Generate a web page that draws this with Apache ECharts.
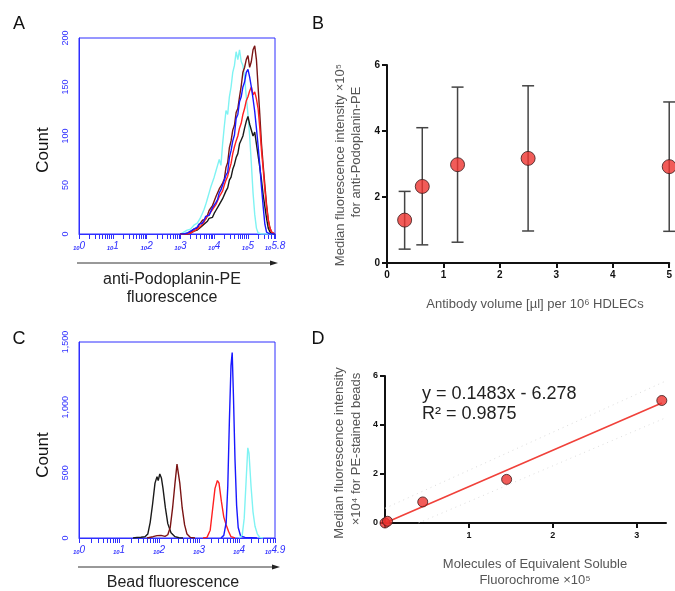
<!DOCTYPE html>
<html>
<head>
<meta charset="utf-8">
<script src="https://cdn.jsdelivr.net/npm/echarts@6/dist/echarts.min.js"></script>
<style>
  html, body { margin: 0; padding: 0; background: #fff; }
  #chart { width: 675px; height: 591px; }
</style>
</head>
<body>
<div id="chart"></div>
<script>
// ---- panel A: anti-Podoplanin-PE histograms (x = log10 fluorescence) ----
var xA = [3.00, 3.05, 3.10, 3.15, 3.20, 3.25, 3.30, 3.35, 3.40, 3.45,
          3.50, 3.55, 3.60, 3.65, 3.70, 3.75, 3.80, 3.85, 3.90, 3.95,
          4.00, 4.05, 4.10, 4.15, 4.20, 4.25, 4.30, 4.35, 4.40, 4.45,
          4.50, 4.55, 4.60, 4.65, 4.70, 4.75, 4.80, 4.85, 4.90, 4.95,
          5.00, 5.05, 5.10, 5.15, 5.20, 5.25, 5.30, 5.35, 5.40, 5.45,
          5.50, 5.55, 5.60, 5.65, 5.70, 5.75, 5.80];
var cyanA = [0, 1, 2, 2, 4, 3, 5, 7, 9, 8,
             11, 14, 17, 21, 25, 30, 36, 42, 48, 46,
             58, 64, 70, 76, 70, 92, 110, 126, 122, 140,
             150, 165, 172, 186, 178, 188, 176, 172, 160, 140,
             122, 100, 72, 42, 20, 6, 1, 0, 0, 0,
             0, 0, 0, 0, 0, 0, 0];
var blackA = [0, 0, 0, 0, 0, 0, 1, 2, 3, 2,
              4, 6, 7, 9, 10, 12, 13, 16, 18, 17,
              21, 24, 26, 30, 31, 36, 38, 44, 47, 55,
              58, 66, 71, 78, 82, 92, 96, 100, 108, 115,
              120, 112, 112, 100, 104, 92, 80, 68, 55, 40,
              28, 16, 6, 2, 0, 0, 0];
var maroonA = [0, 0, 0, 0, 0, 1, 2, 4, 5, 4,
               6, 9, 11, 14, 16, 15, 19, 24, 25, 29,
               31, 38, 40, 46, 49, 52, 56, 68, 73, 88,
               95, 106, 111, 124, 128, 140, 151, 165, 170, 178,
               182, 170, 176, 188, 192, 178, 150, 122, 92, 70,
               50, 30, 15, 6, 2, 0, 0];
var redA = [0, 0, 0, 0, 0, 0, 1, 2, 3, 4,
            5, 7, 8, 10, 12, 16, 18, 20, 22, 25,
            27, 30, 32, 38, 41, 44, 50, 55, 59, 66,
            72, 82, 89, 95, 100, 108, 113, 122, 128, 136,
            140, 146, 150, 142, 145, 138, 128, 108, 85, 66,
            45, 28, 14, 6, 2, 0, 0];
var blueA = [0, 0, 0, 1, 1, 2, 3, 4, 5, 6,
             7, 10, 12, 11, 14, 18, 20, 19, 23, 27,
             28, 32, 35, 42, 45, 50, 52, 60, 63, 78,
             85, 95, 101, 118, 122, 135, 140, 150, 155, 165,
             168, 160, 150, 138, 125, 108, 90, 70, 48, 28,
             10, 2, 0, 0, 0, 0, 0];

// ---- panel B: median intensity vs antibody volume ----
var volB  = [0.3125, 0.625, 1.25, 2.5, 5];
var medB  = [1.30, 2.32, 2.98, 3.17, 2.92];
var lowB  = [0.42, 0.55, 0.63, 0.97, 0.96];
var highB = [2.17, 4.10, 5.33, 5.37, 4.88];

// ---- panel C: bead histograms [log10 x, count] ----
var blackC  = [[1.35, 0], [1.45, 4], [1.55, 6], [1.65, 10], [1.72, 30], [1.78, 120], [1.84, 260], [1.9, 420], [1.95, 470],
               [1.98, 440], [2.02, 490], [2.06, 460], [2.1, 380], [2.16, 230], [2.22, 110], [2.3, 40], [2.4, 10], [2.5, 2], [2.6, 0]];
var maroonC = [[1.7, 0], [1.85, 10], [1.95, 18], [2.05, 20], [2.15, 12], [2.22, 25], [2.28, 80], [2.34, 230], [2.4, 420],
               [2.45, 565], [2.48, 550], [2.52, 420], [2.58, 230], [2.64, 100], [2.7, 30], [2.78, 5], [2.9, 0]];
var redC    = [[3.1, 0], [3.2, 5], [3.28, 60], [3.34, 220], [3.4, 380], [3.46, 440], [3.5, 420], [3.56, 280],
               [3.62, 160], [3.68, 100], [3.74, 50], [3.8, 10], [3.9, 0]];
var blueC   = [[3.55, 0], [3.62, 20], [3.68, 120], [3.72, 400], [3.76, 900], [3.8, 1320], [3.83, 1420], [3.86, 1100],
               [3.9, 600], [3.94, 250], [3.98, 80], [4.04, 15], [4.15, 5], [4.3, 3], [4.45, 0]];
var cyanC   = [[4.0, 0], [4.08, 20], [4.13, 150], [4.18, 450], [4.22, 690], [4.25, 650], [4.3, 400], [4.35, 200],
               [4.4, 90], [4.46, 30], [4.52, 5], [4.6, 0]];

// ---- panel D: bead calibration ----
var mesfD = [0.0, 0.03, 0.45, 1.45, 3.3];
var mfiD  = [0.0, 0.07, 0.86, 1.78, 5.0];
var fitD   = [[0.02, 0.03], [3.3, 4.9]];
var upperD = [[0, 0.6], [3.35, 5.8]];
var lowerD = [[0.4, 0], [3.35, 4.3]];

var histBlue = '#2f2fff';
var font = 'Liberation Sans, Arial, Helvetica, sans-serif';

function logTicks(max) {
    var t = [];
    for (var d = 0; d <= Math.floor(max); d++) {
        for (var k = 1; k <= 9; k++) {
            var v = d + Math.log10(k);
            if (v <= max + 1e-9) t.push(v);
        }
    }
    t.push(max);
    return t;
}

function pairs(xs, ys) {
    return xs.map(function (x, i) { return [x, ys[i]]; });
}

function histX(gridIndex, max, labels) {
    return {
        gridIndex: gridIndex, type: 'value', min: 0, max: max,
        axisLine: { show: true, lineStyle: { color: histBlue, width: 1 } },
        axisTick: { show: true, customValues: logTicks(max), length: 5, lineStyle: { color: histBlue, width: 1 } },
        axisLabel: {
            customValues: labels, margin: 7, color: histBlue,
            formatter: function (v) {
                return '{s|10}{e|' + (Math.round(v * 10) / 10) + '}';
            },
            rich: {
                s: { fontSize: 6, color: histBlue, fontFamily: font, fontStyle: 'italic', fontWeight: 'bold', padding: [4, 0, 0, 0] },
                e: { fontSize: 10, color: histBlue, fontFamily: font, fontStyle: 'italic' }
            }
        },
        splitLine: { show: false }
    };
}

function histY(gridIndex, max, interval) {
    return {
        gridIndex: gridIndex, type: 'value', min: 0, max: max, interval: interval,
        axisLine: { show: true, lineStyle: { color: histBlue, width: 1 } },
        axisTick: { show: false },
        axisLabel: {
            rotate: 90, margin: 9, color: histBlue, fontSize: 9, fontFamily: font,
            formatter: function (v) { return v >= 1000 ? echarts.format.addCommas(v) : String(v); }
        },
        splitLine: { show: false }
    };
}

function blackAxis(gridIndex, min, max, interval, fs, extra) {
    var a = {
        gridIndex: gridIndex, type: 'value', min: min, max: max, interval: interval,
        axisLine: { show: true, onZero: false, lineStyle: { color: '#111', width: 2 } },
        axisTick: { show: true, length: 5, lineStyle: { color: '#111', width: 2 } },
        axisLabel: { color: '#111', fontSize: fs, fontWeight: 'bold', fontFamily: font, margin: 7 },
        splitLine: { show: false }
    };
    for (var k in extra) a[k] = extra[k];
    return a;
}

function histLine(xi, data, color) {
    return {
        type: 'line', xAxisIndex: xi, yAxisIndex: xi, data: data, showSymbol: false, symbol: 'none',
        lineStyle: { color: color, width: 1.4 }, silent: true, animation: false
    };
}

function txt(x, y, s, size, color, extra) {
    var el = {
        type: 'text', x: x, y: y,
        style: { text: s, fontSize: size, fill: color || '#111', fontFamily: font, align: 'center', verticalAlign: 'middle' }
    };
    for (var k in extra) el[k] = extra[k];
    return el;
}

function arrow(x1, x2, y) {
    return [
        { type: 'line', shape: { x1: x1, y1: y, x2: x2 - 6, y2: y }, style: { stroke: '#333', lineWidth: 1 } },
        { type: 'polygon', shape: { points: [[x2, y], [x2 - 8, y - 2.5], [x2 - 8, y + 2.5]] }, style: { fill: '#222' } }
    ];
}

var chart = echarts.init(document.getElementById('chart'));

var option = {
    backgroundColor: '#fff',
    animation: false,
    grid: [
        { left: 79, top: 38, width: 196, height: 196, show: true, borderColor: histBlue, borderWidth: 1, backgroundColor: 'transparent' },
        { left: 387, top: 65, width: 285, height: 198 },
        { left: 79, top: 342, width: 196, height: 196, show: true, borderColor: histBlue, borderWidth: 1, backgroundColor: 'transparent' },
        { left: 385, top: 376, width: 281, height: 147 }
    ],
    xAxis: [
        histX(0, 5.8, [0, 1, 2, 3, 4, 5, 5.8]),
        blackAxis(1, 0, 5, 1, 10, {}),
        histX(2, 4.9, [0, 1, 2, 3, 4, 4.9]),
        blackAxis(3, 0, 3.35, 1, 9, {
            axisTick: { show: true, customValues: [0, 1, 2, 3], length: 5, lineStyle: { color: '#111', width: 2 } },
            axisLabel: { customValues: [1, 2, 3], color: '#111', fontSize: 9, fontWeight: 'bold', fontFamily: font, margin: 8 }
        })
    ],
    yAxis: [
        histY(0, 200, 50),
        blackAxis(1, 0, 6, 2, 10, {}),
        histY(2, 1500, 500),
        blackAxis(3, 0, 6, 2, 9, {})
    ],
    series: [
        histLine(0, pairs(xA, cyanA), '#7ff3f3'),
        histLine(0, pairs(xA, blackA), '#1a1a1a'),
        histLine(0, pairs(xA, maroonA), '#7a1414'),
        histLine(0, pairs(xA, redA), '#ff2020'),
        histLine(0, pairs(xA, blueA), '#1818ff'),

        {
            type: 'custom', xAxisIndex: 1, yAxisIndex: 1, clip: false,
            data: volB.map(function (v, i) { return [v, lowB[i], highB[i]]; }),
            encode: { x: 0, y: [1, 2] },
            renderItem: function (params, api) {
                var lo = api.coord([api.value(0), api.value(1)]);
                var hi = api.coord([api.value(0), api.value(2)]);
                var w = 6, st = { stroke: '#444', lineWidth: 1.5 };
                return {
                    type: 'group', children: [
                        { type: 'line', shape: { x1: lo[0], y1: lo[1], x2: hi[0], y2: hi[1] }, style: st },
                        { type: 'line', shape: { x1: lo[0] - w, y1: lo[1], x2: lo[0] + w, y2: lo[1] }, style: st },
                        { type: 'line', shape: { x1: hi[0] - w, y1: hi[1], x2: hi[0] + w, y2: hi[1] }, style: st }
                    ]
                };
            }
        },
        {
            type: 'scatter', xAxisIndex: 1, yAxisIndex: 1, data: pairs(volB, medB), symbolSize: 14, clip: false,
            itemStyle: { color: '#ee3330', borderColor: '#3a1a1a', borderWidth: 1 }, z: 5
        },

        histLine(2, blackC, '#1a1a1a'),
        histLine(2, maroonC, '#7a1414'),
        histLine(2, redC, '#ff2020'),
        histLine(2, blueC, '#1818ff'),
        histLine(2, cyanC, '#7ff3f3'),

        {
            type: 'line', xAxisIndex: 3, yAxisIndex: 3, data: upperD, showSymbol: false, symbol: 'none',
            lineStyle: { color: '#dcdcdc', width: 1, type: [1, 4] }
        },
        {
            type: 'line', xAxisIndex: 3, yAxisIndex: 3, data: lowerD, showSymbol: false, symbol: 'none',
            lineStyle: { color: '#dcdcdc', width: 1, type: [1, 4] }
        },
        {
            type: 'line', xAxisIndex: 3, yAxisIndex: 3, data: fitD, showSymbol: false, symbol: 'none',
            lineStyle: { color: '#f0413a', width: 1.6 }
        },
        {
            type: 'scatter', xAxisIndex: 3, yAxisIndex: 3, data: pairs(mesfD, mfiD), symbolSize: 10, clip: false,
            itemStyle: { color: '#ee3330', borderColor: '#3a1a1a', borderWidth: 1 }, z: 5
        }
    ],
    graphic: [
        txt(19, 24, 'A', 18, '#111'),
        txt(318, 24, 'B', 18, '#111'),
        txt(19, 339, 'C', 18, '#111'),
        txt(318, 339, 'D', 18, '#111'),

        txt(43, 150, 'Count', 17, '#111', { rotation: Math.PI / 2 }),
        txt(172, 280, 'anti-Podoplanin-PE', 16, '#222'),
        txt(172, 298, 'fluorescence', 16, '#222'),

        txt(43, 455, 'Count', 17, '#111', { rotation: Math.PI / 2 }),
        txt(173, 583, 'Bead fluorescence', 16, '#222'),

        txt(340, 165, 'Median fluorescence intensity \u00d710\u2075', 13, '#555', { rotation: Math.PI / 2 }),
        txt(356, 152, 'for anti-Podoplanin-PE', 13, '#555', { rotation: Math.PI / 2 }),
        txt(535, 304, 'Antibody volume [\u00b5l] per 10\u2076 HDLECs', 13, '#555'),

        txt(339, 453, 'Median fluorescence intensity', 13, '#555', { rotation: Math.PI / 2 }),
        txt(356, 449, '\u00d710\u2074 for PE-stained beads', 13, '#555', { rotation: Math.PI / 2 }),
        txt(535, 564, 'Molecules of Equivalent Soluble', 13, '#555'),
        txt(535, 580, 'Fluorochrome \u00d710\u2075', 13, '#555'),

        { type: 'text', x: 422, y: 394, style: { text: 'y = 0.1483x - 6.278', fontSize: 18, fill: '#222', fontFamily: font, verticalAlign: 'middle' } },
        { type: 'text', x: 422, y: 414, style: { text: 'R\u00b2 = 0.9875', fontSize: 18, fill: '#222', fontFamily: font, verticalAlign: 'middle' } }
    ].concat(arrow(77, 278, 263)).concat(arrow(78, 280, 567))
};

chart.setOption(option);
</script>
</body>
</html>
